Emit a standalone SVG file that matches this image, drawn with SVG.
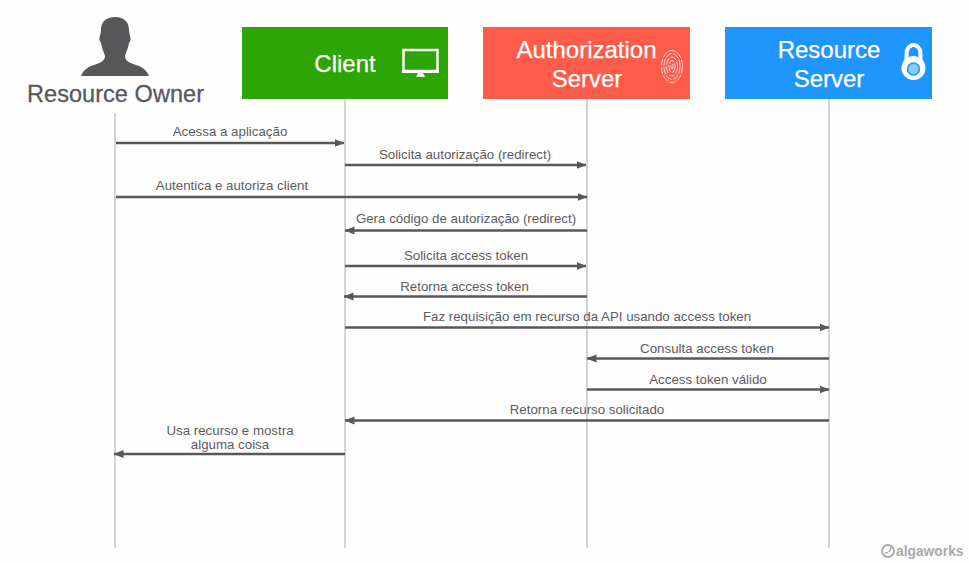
<svg xmlns="http://www.w3.org/2000/svg" width="969" height="563" viewBox="0 0 969 563">
<style>
text{font-family:"Liberation Sans",Arial,sans-serif}
.life{stroke:#d4d4d6;stroke-width:2;fill:none}
.msg{stroke:#58585a;stroke-width:2.400;fill:none;marker-end:url(#arr)}
.lab{font-size:13.300px;fill:#5c5c5e;text-anchor:middle}
.title{font-size:24px;fill:#fff;text-anchor:middle;stroke:#fff;stroke-width:.25}
</style>
<defs>
<marker id="arr" markerUnits="userSpaceOnUse" markerWidth="10" markerHeight="9" refX="9.500" refY="4.500" orient="auto"><path d="M0 .5L10 4.500L0 8.500Z" fill="#58585a"/></marker>
</defs>
<rect width="969" height="563" fill="#fefefe"/>
<g id="lifelines">
<path class="life" d="M115 113V548"/>
<path class="life" d="M345 98V548"/>
<path class="life" d="M587 98V548"/>
<path class="life" d="M829 98V548"/>
</g>
<g id="resource-owner">
<path fill="#58585a" d="M115 17C106 17 101 22 101 30C101 33 100 34 100 36C99 38 99 41 101 43C102 49 104 52 105 56C105 61 100 63 94 65C87 67 83 71 81 76H149C147 71 143 67 136 65C130 63 125 61 125 56C126 52 128 49 129 43C131 41 131 38 130 36C130 34 129 33 129 30C129 22 124 17 115 17Z"/>
<text x="115.500" y="102" font-size="23.500" fill="#58585a" stroke="#58585a" stroke-width=".3" text-anchor="middle" textLength="177">Resource Owner</text>
</g>
<g id="client">
<rect x="242" y="27" width="206" height="72" fill="#2da505"/>
<text class="title" x="345" y="72">Client</text>
<rect x="403.500" y="50" width="34" height="21" fill="none" stroke="#fff" stroke-width="2.500"/>
<path d="M402 70H439V73H402ZM418 73H423L425 77H416Z" fill="#fff"/>
</g>
<g id="authorization-server">
<rect x="483" y="27" width="207" height="72" fill="#fe5b4b"/>
<text class="title" x="586.500" y="58">Authorization</text>
<text class="title" x="587" y="87">Server</text>
<g fill="none" stroke="#fbd8d2" stroke-width="1" stroke-dasharray="7 1.500">
<ellipse cx="672" cy="66.500" rx="10.500" ry="16"/>
<ellipse cx="672" cy="66.500" rx="8" ry="13"/>
<ellipse cx="672" cy="66.500" rx="5.500" ry="9.500"/>
<ellipse cx="672" cy="66.500" rx="3" ry="6"/>
<ellipse cx="672" cy="66.500" rx="1" ry="2.500"/>
</g>
</g>
<g id="resource-server">
<rect x="725" y="27" width="207" height="72" fill="#1e96fe"/>
<text class="title" x="829" y="58">Resource</text>
<text class="title" x="829" y="87">Server</text>
<path d="M906.500 62V54C906.500 42 920.500 42 920.500 54V62" fill="none" stroke="#fff" stroke-width="4"/>
<circle cx="913.500" cy="68" r="12" fill="#fff"/>
<circle cx="913.500" cy="69" r="6" fill="#8cc8fe" stroke="#1e96fe" stroke-width="1.500"/>
</g>
<g id="connectors">
<path class="msg" d="M116 143H344"/>
<path class="msg" d="M345 165H586"/>
<path class="msg" d="M116 197H587"/>
<path class="msg" d="M587 230.500H345"/>
<path class="msg" d="M345 266H586"/>
<path class="msg" d="M587 296.500H344"/>
<path class="msg" d="M345 327.500H829"/>
<path class="msg" d="M829 358.500H587"/>
<path class="msg" d="M587 389.500H829"/>
<path class="msg" d="M829 420.500H345"/>
<path class="msg" d="M345 454H114"/>
</g>
<g id="labels">
<text class="lab" x="230" y="136">Acessa a aplicação</text>
<text class="lab" x="465" y="159">Solicita autorização (redirect)</text>
<text class="lab" x="232" y="190">Autentica e autoriza client</text>
<text class="lab" x="466" y="223">Gera código de autorização (redirect)</text>
<text class="lab" x="466" y="260">Solicita access token</text>
<text class="lab" x="464.500" y="291">Retorna access token</text>
<text class="lab" x="587" y="321">Faz requisição em recurso da API usando access token</text>
<text class="lab" x="707" y="353">Consulta access token</text>
<text class="lab" x="708" y="384">Access token válido</text>
<text class="lab" x="587" y="414">Retorna recurso solicitado</text>
<text class="lab" x="230" y="435">Usa recurso e mostra</text>
<text class="lab" x="230" y="449">alguma coisa</text>
</g>
<g id="logo">
<circle cx="888" cy="551" r="6" fill="none" stroke="#a9a9a9" stroke-width="1.800"/>
<path d="M885 553C889 553 891 550 891 547" fill="none" stroke="#a9a9a9" stroke-width="1.500"/>
<text x="896" y="556" font-size="13.800" font-weight="700" fill="#a9a9a9">algaworks</text>
</g>
</svg>
